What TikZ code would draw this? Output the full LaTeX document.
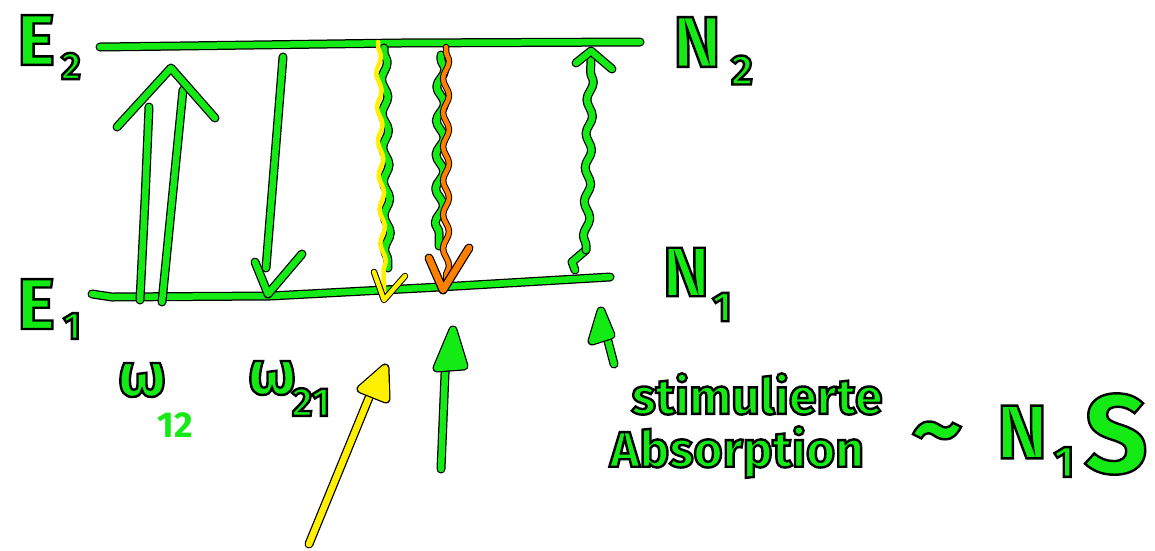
\documentclass[tikz,border=0pt]{standalone}
\usepackage{fontspec}
\setmainfont{Fira Sans}
\usetikzlibrary{decorations.pathmorphing}
\definecolor{gr}{RGB}{20,235,20}
\definecolor{ye}{RGB}{255,240,0}
\definecolor{orng}{RGB}{255,128,0}
\tikzset{
  hand/.style={preaction={draw=black,line width=9pt,line cap=round,line join=round},
               draw=#1,line width=6.5pt,line cap=round,line join=round},
  hand/.default=gr,
  thinhand/.style={preaction={draw=black,line width=6.5pt,line cap=round,line join=round},
               draw=#1,line width=4.5pt,line cap=round,line join=round},
  lbl/.style={text=gr,inner sep=0pt,font=\bfseries\fontsize{#1}{#1}\selectfont},
  plain/.style={text=gr,inner sep=0pt,font=\bfseries\fontsize{#1}{#1}\selectfont},
  wv/.style={decoration={snake,amplitude=#1,segment length=34pt,pre length=4pt,post length=4pt}},
}
\newcommand{\ct}[1]{\special{pdf:literal direct 0 0 0 RG 2 Tr 2.4 w}#1\special{pdf:literal direct 0 Tr}}
\begin{document}
\begin{tikzpicture}[x=1pt,y=-1pt]
\useasboundingbox (0,0) rectangle (1155,550);
% energy levels
\coordinate (t0) at (100,47); \coordinate (t1) at (180,46);
\coordinate (t2) at (400,43); \coordinate (t3) at (640,42);
\coordinate (b0) at (92,294); \coordinate (b1) at (112,297);
\coordinate (b2) at (270,296); \coordinate (b3) at (440,287); \coordinate (b4) at (610,277);
\draw[hand] (t0) -- (t1) -- (t2) -- (t3);
\draw[hand] (b0) -- (b1) -- (b2) -- (b3) -- (b4);
% absorption arrow (double line)
\coordinate (a1s) at (140,300); \coordinate (a1e) at (149,107);
\coordinate (a2s) at (162,302); \coordinate (a2e) at (183,90);
\coordinate (ahl) at (117,127); \coordinate (aht) at (171,68); \coordinate (ahr) at (215,118);
\draw[hand] (a1s) -- (145,200) -- (a1e);
\draw[hand] (a2s) -- (a2e);
\draw[hand] (ahl) -- (aht) -- (ahr);
% spontaneous emission arrow
\coordinate (dns) at (283,57); \coordinate (dne) at (266,268);
\coordinate (dhl) at (255,262); \coordinate (dht) at (268,294); \coordinate (dhr) at (302,254);
\draw[hand] (dns) -- (dne);
\draw[hand] (dhl) -- (dht) -- (dhr);
% yellow wavy arrow with green shadow
\coordinate (ygs) at (384,48); \coordinate (yge) at (388,268);
\coordinate (yys) at (378,42); \coordinate (yye) at (384,292);
\draw[hand] decorate[wv=3pt] {(ygs) -- (yge)};
\draw[line width=4.5pt,draw=ye,line cap=round] decorate[wv=2.5pt] {(yys) -- (yye)};
\coordinate (yhl) at (374,272); \coordinate (yht) at (384,300); \coordinate (yhr) at (405,276);
\draw[thinhand=ye] (yhl) -- (yht) -- (yhr);
% orange wavy arrow with green shadow
\coordinate (ogs) at (441,55); \coordinate (oge) at (439,246);
\coordinate (oos) at (446,47); \coordinate (ooe) at (446,285);
\draw[hand] decorate[wv=4pt] {(ogs) -- (oge)};
\draw[thinhand=orng] decorate[wv=3pt] {(oos) -- (ooe)};
\coordinate (ohl) at (429,258); \coordinate (oht) at (443,290); \coordinate (ohr) at (469,248);
\draw[hand=orng] (ohl) -- (oht) -- (ohr);
% green wavy up arrow
\coordinate (gus) at (575,270); \coordinate (gum) at (586,250); \coordinate (gue) at (591,56);
\draw[hand] (gus) -- (572,262) -- (gum);
\draw[hand] decorate[wv=3pt] {(gum) -- (gue)};
\coordinate (ghl) at (576,63); \coordinate (ght) at (591,51); \coordinate (ghr) at (612,69);
\draw[hand] (ghl) -- (ght) -- (ghr);
% incoming photons
\coordinate (yps) at (309,544); \coordinate (ype) at (377,378);
\draw[hand=ye] (yps) -- (ype);
\coordinate (ypl) at (361,389); \coordinate (ypt) at (385,368); \coordinate (ypr) at (386,399);
\draw[hand=ye,fill=ye] (ypl) -- (ypt) -- (ypr) -- cycle;
\coordinate (gps) at (441,469); \coordinate (gpe) at (446,350);
\draw[hand] (gps) -- (gpe);
\coordinate (gpl) at (437,368); \coordinate (gpt) at (453,330); \coordinate (gpr) at (464,366);
\draw[hand,fill=gr] (gpl) -- (gpt) -- (gpr) -- cycle;
% small arrow to N1
\coordinate (sas) at (614,364); \coordinate (sae) at (603,322);
\draw[hand] (sas) -- (sae);
\coordinate (sal) at (592,341); \coordinate (sat) at (601,311); \coordinate (sar) at (611,335);
\draw[hand,fill=gr] (sal) -- (sat) -- (sar) -- cycle;
% labels
\node[lbl=72] (E2) at (36,40) {\ct{E}};
\node[lbl=38] (E2s) at (71,66) {\ct{2}};
\node[lbl=72] (E1) at (36,304) {\ct{E}};
\node[lbl=38] (E1s) at (72,326) {\ct{1}};
\node[lbl=72] (N2) at (697,42) {\ct{N}};
\node[lbl=42] (N2s) at (742,70) {\ct{2}};
\node[lbl=70] (N1) at (686,272) {\ct{N}};
\node[lbl=42] (N1s) at (722,307) {\ct{1}};
\node[lbl=62] (w12) at (142,380) {\ct{ω}};
\node[plain=36] (w12s) at (175,425) {12};
\node[lbl=62] (w21) at (272,378) {\ct{ω}};
\node[lbl=40] (w21s) at (311,402) {\ct{21}};
\node[lbl=50] (st) at (757,394) {\ct{stimulierte}};
\node[lbl=50] (ab) at (737,452) {\ct{Absorption}};
\node[lbl=100] (tl) at (937,442) {\ct{\textasciitilde}};
\node[lbl=76] (N) at (1022,432) {\ct{N}};
\node[lbl=44] (Ns) at (1064,462) {\ct{1}};
\node[lbl=112] (S) at (1116,434) {\ct{S}};
\end{tikzpicture}
\end{document}
